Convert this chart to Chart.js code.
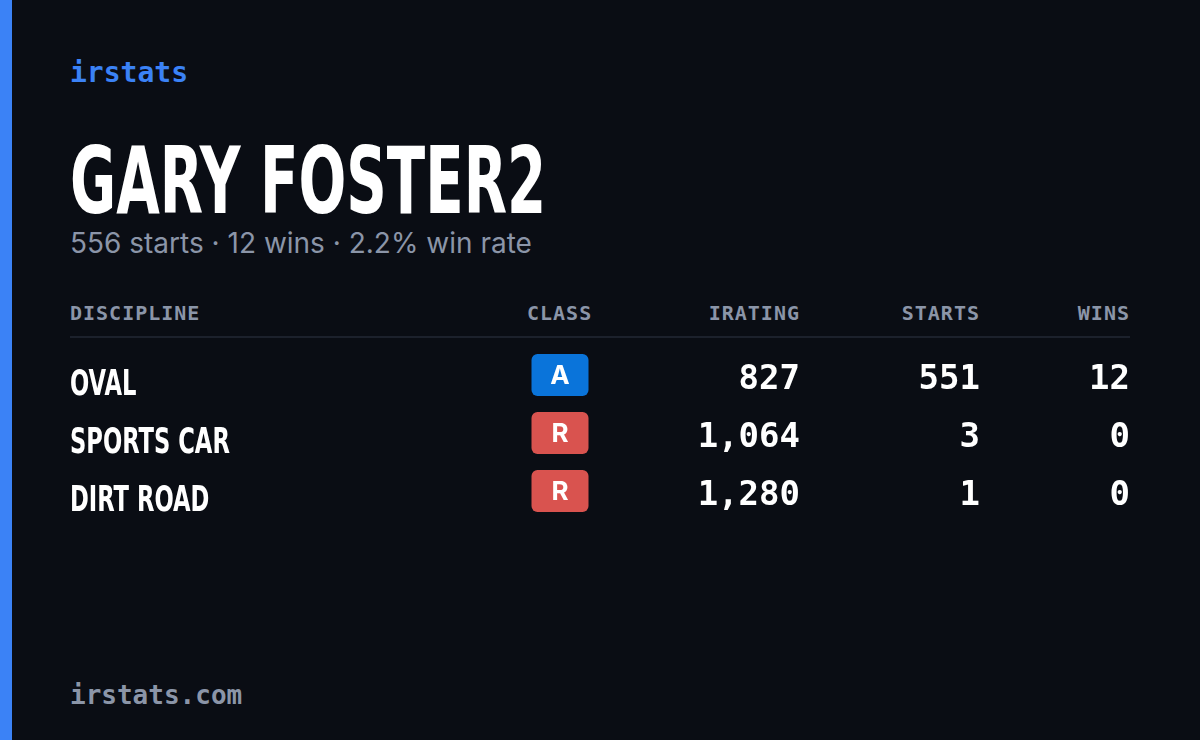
<!DOCTYPE html>
<html><head><meta charset="utf-8">
<script src="https://cdn.jsdelivr.net/npm/chart.js@4"></script>
<style>
body{margin:0;width:1200px;height:740px;background:#0a0d14;overflow:hidden;position:relative;font-family:Inter,sans-serif}
.bar{position:absolute;left:0;top:0;width:12px;height:740px;background:#3b82f6}
.t{position:absolute;white-space:nowrap}
.mono{font-family:"DejaVu Sans Mono",monospace}
.h{font-family:"DejaVu Sans Mono",monospace;font-size:20px;color:#8b95a8;top:301px;letter-spacing:1px;font-weight:bold}
#wrap{position:absolute;left:0;top:350px;width:1200px;height:174px}
</style></head><body>
<div class="bar"></div>
<div class="t mono" style="left:70px;top:56px;font-size:28px;color:#3b82f6;font-weight:bold">irstats</div>
<div class="t" style="left:70px;top:128px;font-family:'DejaVu Sans Condensed',sans-serif;font-weight:bold;font-size:92px;color:#fff;transform:scaleX(0.68);transform-origin:left">GARY FOSTER2</div>
<div class="t" style="left:70px;top:226px;font-size:28px;color:#8b95a8">556 starts · 12 wins · 2.2% win rate</div>
<div class="t h" style="left:70px">DISCIPLINE</div>
<div class="t h" style="left:527px">CLASS</div>
<div class="t h" style="right:400px">IRATING</div>
<div class="t h" style="right:220px">STARTS</div>
<div class="t h" style="right:70px">WINS</div>
<div style="position:absolute;left:70px;top:336px;width:1060px;height:2px;background:#1c212c"></div>
<div id="wrap"><canvas id="c"></canvas></div>
<div class="t mono" style="left:70px;top:680px;font-size:26px;color:#8b95a8;font-weight:bold">irstats.com</div>
<script>
const disciplines=["OVAL","SPORTS CAR","DIRT ROAD"];
const classes=["A","R","R"];
const iratings=[827,1064,1280];
const starts=[551,3,1];
const wins=[12,0,0];
const classColors={A:"#0a74da",R:"#d9534f"};
const cols={name:70,cls:560,ir:800,st:980,wn:1130};
const tablePlugin={id:'tbl',afterDraw(ch){
 const c=ch.ctx,y=ch.scales.y,x=ch.scales.x;
 c.save();
 disciplines.forEach((d,i)=>{
  const py=y.getPixelForValue(i);
  c.fillStyle="#fff";c.textBaseline="middle";
  c.font="bold 35px 'DejaVu Sans Condensed',sans-serif";
  c.textAlign="left";
  c.save();c.translate(x.getPixelForValue(cols.name),py+7);c.scale(0.72,1);c.fillText(d,0,0);c.restore();
  const bx=x.getPixelForValue(cols.cls);
  c.fillStyle=classColors[classes[i]];
  c.beginPath();c.roundRect(bx-28.5,py-25,57,42,6);c.fill();
  c.fillStyle="#fff";c.textAlign="center";c.font="bold 26px Inter,sans-serif";
  c.fillText(classes[i],bx,py-3);
  c.font="bold 34px 'DejaVu Sans Mono',monospace";c.textAlign="right";
  c.fillText(iratings[i].toLocaleString('en-US'),x.getPixelForValue(cols.ir),py+1);
  c.fillText(String(starts[i]),x.getPixelForValue(cols.st),py+1);
  c.fillText(String(wins[i]),x.getPixelForValue(cols.wn),py+1);
 });
 c.restore();
}};
new Chart(document.getElementById('c'),{type:'scatter',
 data:{labels:disciplines,datasets:[{data:[],pointRadius:0}]},
 options:{responsive:true,maintainAspectRatio:false,animation:false,
  layout:{padding:0},
  plugins:{legend:{display:false},tooltip:{enabled:false}},
  scales:{x:{type:'linear',min:0,max:1200,display:false},
          y:{type:'category',labels:disciplines,offset:true,display:false}}},
 plugins:[tablePlugin]});
</script></body></html>
